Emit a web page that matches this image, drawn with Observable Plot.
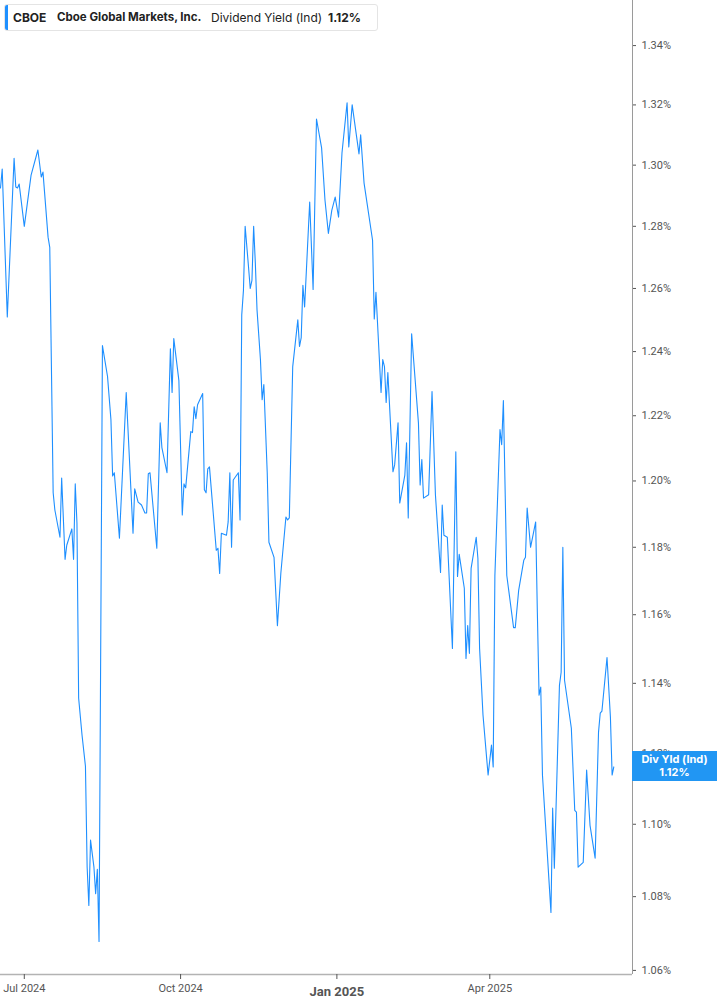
<!DOCTYPE html>
<html><head><meta charset="utf-8">
<script src="https://cdn.jsdelivr.net/npm/d3@7"></script>
<script src="https://cdn.jsdelivr.net/npm/@observablehq/plot@0.6"></script>
<style>
body{margin:0;background:#fff;font-family:Inter,"Noto Sans",sans-serif;}
#wrap{position:relative;width:717px;height:1005px;overflow:hidden;}
#head{position:absolute;left:4px;top:4px;width:372px;height:25px;border:1px solid #e4e4e4;border-radius:3px;background:#fff;}
#head .bar{position:absolute;left:0;top:0;width:3px;height:25px;background:#1e90ff;border-radius:2px 0 0 2px;}
#head span{position:absolute;top:5px;font-size:12px;color:#222;white-space:nowrap;line-height:15px;}
#badge{position:absolute;left:632px;width:85px;height:30px;background:#2196f3;color:#fff;font-family:Inter,"Noto Sans",sans-serif;font-weight:700;font-size:11px;line-height:13px;text-align:center;display:flex;flex-direction:column;justify-content:center;}
</style></head><body><div id="wrap"></div>
<script>
const ticker = "CBOE";
const company = "Cboe Global Markets, Inc.";
const metric = "Dividend Yield (Ind)";
const badgeLabel = "Div Yld (Ind)";

const dates = [
"2024-06-17","2024-06-18","2024-06-21","2024-06-25","2024-06-26","2024-06-27","2024-06-28","2024-07-01","2024-07-05","2024-07-09",
"2024-07-11","2024-07-12","2024-07-15","2024-07-16","2024-07-18","2024-07-19","2024-07-22","2024-07-23","2024-07-25","2024-07-26",
"2024-07-29","2024-07-30","2024-07-31","2024-08-01","2024-08-02","2024-08-04","2024-08-06","2024-08-07","2024-08-08","2024-08-09",
"2024-08-11","2024-08-12","2024-08-13","2024-08-14","2024-08-16","2024-08-19","2024-08-21","2024-08-22","2024-08-23","2024-08-26",
"2024-08-30","2024-09-03","2024-09-04","2024-09-06","2024-09-08","2024-09-10","2024-09-11","2024-09-12","2024-09-13","2024-09-17",
"2024-09-19","2024-09-20","2024-09-23","2024-09-25","2024-09-26","2024-09-27","2024-09-30","2024-10-02","2024-10-03","2024-10-04",
"2024-10-07","2024-10-08","2024-10-09","2024-10-10","2024-10-11","2024-10-14","2024-10-15","2024-10-16","2024-10-17","2024-10-18",
"2024-10-22","2024-10-23","2024-10-24","2024-10-25","2024-10-28","2024-10-29","2024-10-30","2024-10-31","2024-11-01","2024-11-04",
"2024-11-05","2024-11-06","2024-11-07","2024-11-08","2024-11-10","2024-11-11","2024-11-12","2024-11-13","2024-11-14","2024-11-15",
"2024-11-17","2024-11-18","2024-11-19","2024-11-21","2024-11-22","2024-11-25","2024-11-27","2024-11-29","2024-12-02","2024-12-03",
"2024-12-04","2024-12-06","2024-12-09","2024-12-10","2024-12-11","2024-12-12","2024-12-13","2024-12-16","2024-12-18","2024-12-20",
"2024-12-23","2024-12-25","2024-12-27","2024-12-29","2024-12-31","2025-01-02","2025-01-04","2025-01-07","2025-01-08","2025-01-10",
"2025-01-14","2025-01-15","2025-01-17","2025-01-22","2025-01-23","2025-01-24","2025-01-27","2025-01-28","2025-01-29","2025-01-30",
"2025-01-31","2025-02-03","2025-02-04","2025-02-06","2025-02-07","2025-02-10","2025-02-11","2025-02-12","2025-02-14","2025-02-18",
"2025-02-19","2025-02-20","2025-02-21","2025-02-24","2025-02-26","2025-02-28","2025-03-03","2025-03-04","2025-03-05","2025-03-07",
"2025-03-10","2025-03-12","2025-03-13","2025-03-14","2025-03-17","2025-03-18","2025-03-19","2025-03-20","2025-03-21","2025-03-24",
"2025-03-25","2025-03-26","2025-03-28","2025-03-31","2025-04-02","2025-04-03","2025-04-04","2025-04-07","2025-04-08","2025-04-09",
"2025-04-11","2025-04-15","2025-04-16","2025-04-18","2025-04-21","2025-04-22","2025-04-23","2025-04-25","2025-04-28","2025-04-29",
"2025-04-30","2025-05-01","2025-05-02","2025-05-07","2025-05-08","2025-05-09","2025-05-12","2025-05-13","2025-05-14","2025-05-15",
"2025-05-19","2025-05-21","2025-05-22","2025-05-23","2025-05-26","2025-05-28","2025-05-30","2025-06-02","2025-06-04","2025-06-05",
"2025-06-06","2025-06-09","2025-06-11","2025-06-12","2025-06-13"
];
const values = [
1.2925,1.2987,1.2509,1.3023,1.2928,1.2925,1.2938,1.2800,1.2967,1.3050,
1.2961,1.2977,1.2765,1.2732,1.1964,1.1912,1.1830,1.2009,1.1764,1.1806,
1.1855,1.1764,1.1991,1.1873,1.1357,1.1251,1.1163,1.0881,1.0776,1.0956,
1.0881,1.0808,1.0875,1.0678,1.2419,1.2322,1.2188,1.2015,1.2025,1.1827,
1.2272,1.1842,1.1976,1.1936,1.1927,1.1903,1.1903,1.2022,1.2025,1.1797,
1.2178,1.2102,1.2025,1.2409,1.2272,1.2441,1.2309,1.1897,1.1991,1.1979,
1.2151,1.2148,1.2228,1.2191,1.2234,1.2269,1.1973,1.1964,1.2037,1.2043,
1.1791,1.1797,1.1722,1.1842,1.1836,1.1876,1.2025,1.1800,1.2003,1.2025,
1.1882,1.2516,1.2594,1.2800,1.2668,1.2600,1.2626,1.2800,1.2681,1.2531,
1.2375,1.2250,1.2297,1.2025,1.1815,1.1770,1.1568,1.1722,1.1891,1.1882,
1.1888,1.2353,1.2500,1.2416,1.2444,1.2610,1.2541,1.2879,1.2597,1.3153,
1.3057,1.2885,1.2777,1.2852,1.2895,1.2830,1.3040,1.3207,1.3060,1.3200,
1.3037,1.3100,1.2941,1.2755,1.2503,1.2588,1.2272,1.2375,1.2353,1.2241,
1.2334,1.2028,1.2049,1.2178,1.1933,1.2018,1.2117,1.1888,1.2456,1.2178,
1.1988,1.2065,1.1948,1.1958,1.2275,1.1958,1.1725,1.1927,1.1836,1.1830,
1.1501,1.2089,1.1713,1.1779,1.1678,1.1472,1.1568,1.1487,1.1737,1.1830,
1.1767,1.1501,1.1309,1.1138,1.1223,1.1161,1.1716,1.2157,1.2111,1.2247,
1.1716,1.1562,1.1562,1.1672,1.1761,1.1770,1.1918,1.1800,1.1876,1.1606,
1.1366,1.1389,1.1138,1.0757,1.1045,1.0878,1.1394,1.1432,1.1800,1.1409,
1.1271,1.1039,1.1034,1.0881,1.0894,1.1152,1.0997,1.0906,1.1260,1.1314,
1.1320,1.1475,1.1303,1.1138,1.1161
];
const yTicks = [1.06,1.08,1.10,1.12,1.14,1.16,1.18,1.20,1.22,1.24,1.26,1.28,1.30,1.32,1.34];
const xTicks = ["2024-07-01","2024-10-01","2025-04-01"];
const xTicksYear = ["2025-01-01"];
const xDomain = ["2024-06-17","2025-06-24"];
const yDomain = [1.0589, 1.3554];

const data = dates.map((d, i) => ({date: new Date(d), value: values[i]}));
const fmtX = d3.utcFormat("%b %Y");
const fmtY = d => d.toFixed(2) + "%";

const chart = Plot.plot({
  width: 717, height: 1005,
  marginLeft: 0, marginRight: 85, marginTop: 0, marginBottom: 31,
  style: {fontFamily: "Roboto, 'Noto Sans', sans-serif", background: "transparent", overflow: "visible"},
  x: {type: "utc", domain: xDomain.map(d => new Date(d))},
  y: {type: "log", domain: yDomain},
  marks: [
    Plot.ruleY([yDomain[0]], {stroke: "#b3b3b3", strokeWidth: 1.6}),
    Plot.ruleX([new Date(xDomain[1])], {stroke: "#9a9a9a", strokeWidth: 1}),
    Plot.axisY({anchor: "right", ticks: yTicks, tickSize: 3, tickPadding: 6, tickFormat: fmtY, fontSize: 11, color: "#555", label: null}),
    Plot.axisX({ticks: xTicks.map(d => new Date(d)), tickSize: 5, tickPadding: 5, tickFormat: fmtX, fontSize: 11, color: "#555", label: null}),
    Plot.axisX({ticks: xTicksYear.map(d => new Date(d)), tickSize: 5, tickPadding: 7, tickFormat: fmtX, fontSize: 13, fontWeight: "bold", color: "#555", label: null}),
    Plot.line(data, {x: "date", y: "value", stroke: "#1e8fff", strokeWidth: 1.1})
  ]
});

const wrap = document.getElementById("wrap");
wrap.appendChild(chart);
d3.select(chart).selectAll("text").filter(function(){return this.textContent === fmtX(new Date(xTicksYear[0]));}).attr("font-weight","bold").attr("font-size",13);

// header legend
const last = values[values.length - 1];
const head = document.createElement("div");
head.id = "head";
head.innerHTML = `<div class="bar"></div>
<span style="left:8px;font-weight:700">${ticker}</span>
<span style="left:52px;font-weight:700;font-size:11.5px">${company}</span>
<span style="left:206px;font-weight:400">${metric}</span>
<span style="left:323px;font-weight:700">${fmtY(last)}</span>`;
wrap.appendChild(head);

// last value badge positioned through the y scale
const yPix = chart.scale("y").apply(last);
const badge = document.createElement("div");
badge.id = "badge";
badge.style.top = (yPix - 15) + "px";
badge.innerHTML = `<div>${badgeLabel}</div><div>${fmtY(last)}</div>`;
wrap.appendChild(badge);
</script>
</body></html>
